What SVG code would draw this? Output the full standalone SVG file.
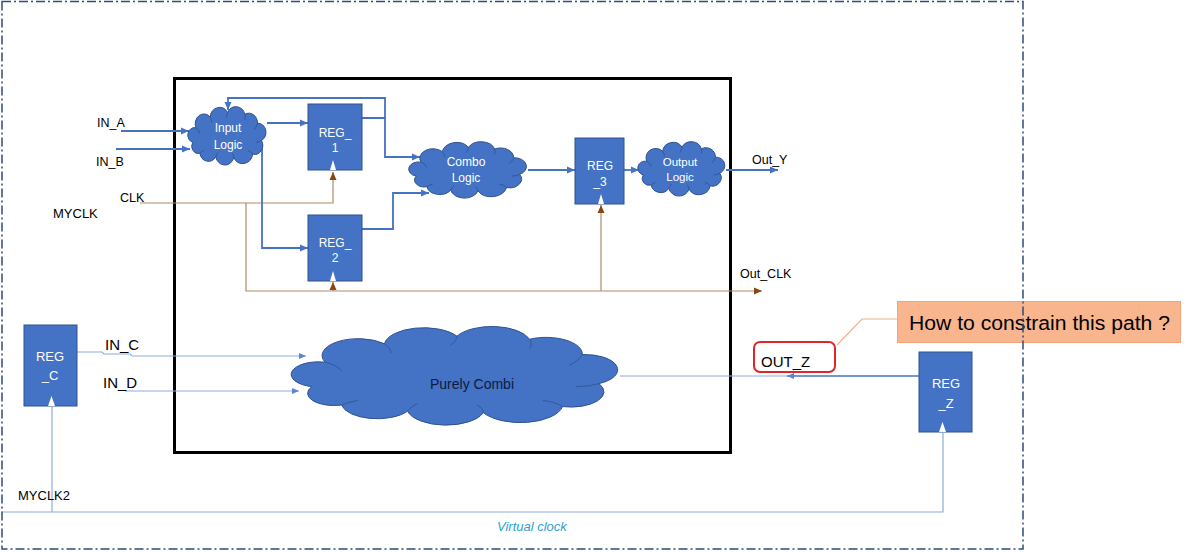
<svg xmlns="http://www.w3.org/2000/svg" xmlns:xlink="http://www.w3.org/1999/xlink" width="1204" height="552" viewBox="0 0 1204 552">
<style>
  text { font-family: "Liberation Sans", Arial, sans-serif; }
  .reg { fill: #4472C4; stroke: #2F528F; stroke-width: 1; }
  .wtxt { fill: #FFFFFF; font-size: 12px; text-anchor: middle; }
  .btxt { fill: #000000; font-size: 12.5px; }
  .blue { fill: none; stroke: #4472C4; stroke-width: 1.8; }
  .thin { fill: none; stroke: #8FAADC; stroke-width: 1.2; }
  .brown { fill: none; stroke: #B08968; stroke-width: 1.2; }
  .clk { fill: #FFFFFF; }
</style>
<defs>
  <g id="cloud">
    <path d="M6,38 A8,8 0 0 1 10,22 A11,11 0 0 1 28,10 A12,12 0 0 1 50,5 A12,12 0 0 1 72,7 A11,11 0 0 1 88,17 A10,10 0 0 1 93,36 A10,10 0 0 1 82,51 A13,13 0 0 1 58,55 A12,12 0 0 1 35,54 A11,11 0 0 1 15,50 A8,8 0 0 1 6,38 Z" fill="#4472C4" stroke="#2F528F" stroke-width="1" vector-effect="non-scaling-stroke"/>
    <path d="M10,22 Q14,24 15,28 M28,10 Q30,13 30,16 M50,5 Q50,8 48,11 M72,7 Q73,10 72,13 M88,17 Q87,21 84,24 M93,36 Q90,38 86,38 M82,51 Q80,48 76,47 M58,55 Q58,52 56,50 M35,54 Q36,51 38,49 M15,50 Q17,48 20,47" fill="none" stroke="#2F528F" stroke-width="0.8" vector-effect="non-scaling-stroke"/>
  </g>
  <marker id="ab" markerUnits="userSpaceOnUse" markerWidth="9" markerHeight="8" refX="8" refY="4" orient="auto">
    <path d="M0,0.5 L8,4 L0,7.5 Z" fill="#4472C4"/>
  </marker>
  <marker id="at" markerUnits="userSpaceOnUse" markerWidth="8" markerHeight="7" refX="7" refY="3.5" orient="auto">
    <path d="M0,0.5 L7,3.5 L0,6.5 Z" fill="#5B84D0"/>
  </marker>
  <marker id="abr" markerUnits="userSpaceOnUse" markerWidth="9" markerHeight="8" refX="8" refY="4" orient="auto">
    <path d="M0,0.5 L8,4 L0,7.5 Z" fill="#8B4513"/>
  </marker>
</defs>

<rect width="1204" height="552" fill="#FFFFFF"/>

<!-- main black block -->
<rect id="block" x="174.5" y="78.5" width="556" height="374" fill="none" stroke="#000000" stroke-width="3"/>

<!-- connectors -->
<g id="connectors">
  <!-- brown clock network -->
  <path class="brown" d="M140,203 H333 V172" marker-end="url(#abr)"/>
  <path class="brown" d="M246,203 V291 H762" marker-end="url(#abr)"/>
  <path class="brown" d="M333,291 V282" marker-end="url(#abr)"/>
  <path class="brown" d="M601,291 V205" marker-end="url(#abr)"/>
  <!-- blue data network -->
  <path class="blue" d="M121,131 H189" marker-end="url(#ab)"/>
  <path class="blue" d="M116,149 H190" marker-end="url(#ab)"/>
  <path class="blue" d="M267,123 H308" marker-end="url(#ab)"/>
  <path class="blue" d="M262,143 V248 H308" marker-end="url(#ab)"/>
  <path class="blue" d="M362,118 H385 V157 H420" marker-end="url(#ab)"/>
  <path class="blue" d="M385,118 V98 H228 V110" marker-end="url(#ab)"/>
  <path class="blue" d="M362,229 H393 V193 H429" marker-end="url(#ab)"/>
  <path class="blue" d="M528,170 H575" marker-end="url(#ab)"/>
  <path class="blue" d="M624,170 H639" marker-end="url(#ab)"/>
  <path class="blue" d="M726,170 H778" marker-end="url(#ab)"/>
  <!-- lower path -->
  <path class="thin" d="M77,352 H102 L104,354 H130 L132,356 H306" marker-end="url(#at)"/>
  <path class="thin" d="M125,391 H299" marker-end="url(#at)"/>
  <path class="thin" d="M620,376 H787"/>
  <path fill="none" stroke="#4472C4" stroke-width="1.3" d="M919,376 H787" marker-end="url(#at)"/>
  <!-- virtual clock -->
  <path class="thin" d="M2,512 H943 V433"/>
  <path class="thin" d="M52,407 V512"/>
  <!-- callout leader -->
  <path fill="none" stroke="#F4B183" stroke-width="1.2" d="M837,345 L862,319 H897"/>
</g>

<!-- clouds -->
<g id="input_logic">
  <use xlink:href="#cloud" href="#cloud" transform="translate(188,107.9) scale(0.79,0.906)"/>
  <text class="wtxt" x="228" y="132">Input</text>
  <text class="wtxt" x="228" y="149">Logic</text>
</g>
<g id="combo_logic">
  <use xlink:href="#cloud" href="#cloud" transform="translate(409,142.9) scale(1.19,0.875)"/>
  <text class="wtxt" x="466" y="166">Combo</text>
  <text class="wtxt" x="466" y="182">Logic</text>
</g>
<g id="output_logic">
  <use xlink:href="#cloud" href="#cloud" transform="translate(638,142.8) scale(0.88,0.844)"/>
  <text class="wtxt" x="680" y="166" style="font-size:11.5px">Output</text>
  <text class="wtxt" x="680" y="181" style="font-size:11.5px">Logic</text>
</g>
<g id="purely_combi">
  <use xlink:href="#cloud" href="#cloud" transform="translate(292,328.5) scale(3.3,1.531)"/>
  <text x="472" y="389" text-anchor="middle" style="font-size:14px" fill="#0D1B3E">Purely Combi</text>
</g>

<!-- registers -->
<g id="reg_1">
  <rect class="reg" x="308" y="104" width="54" height="66"/>
  <path class="clk" d="M330,170 L333,160 L336,170 Z"/>
  <text class="wtxt" x="335" y="137">REG_</text>
  <text class="wtxt" x="335" y="152">1</text>
</g>
<g id="reg_2">
  <rect class="reg" x="308" y="215" width="54" height="66"/>
  <path class="clk" d="M330,281 L333,271 L336,281 Z"/>
  <text class="wtxt" x="335" y="247">REG_</text>
  <text class="wtxt" x="335" y="262">2</text>
</g>
<g id="reg_3">
  <rect class="reg" x="575" y="138" width="49" height="66"/>
  <path class="clk" d="M598,204 L601,194 L604,204 Z"/>
  <text class="wtxt" x="600" y="170">REG</text>
  <text class="wtxt" x="600" y="186">_3</text>
</g>
<g id="reg_c">
  <rect class="reg" x="24" y="325" width="53" height="81"/>
  <path class="clk" d="M48,406 L51.5,396 L55,406 Z"/>
  <text class="wtxt" x="50" y="361" style="font-size:13px">REG</text>
  <text class="wtxt" x="50" y="380" style="font-size:13px">_C</text>
</g>
<g id="reg_z">
  <rect class="reg" x="919" y="352" width="53" height="80"/>
  <path class="clk" d="M939,432 L942.5,422 L946,432 Z"/>
  <text class="wtxt" x="946" y="388" style="font-size:13px">REG</text>
  <text class="wtxt" x="946" y="408" style="font-size:13px">_Z</text>
</g>

<!-- labels -->
<g id="labels">
  <text class="btxt" x="97" y="127">IN_A</text>
  <text class="btxt" x="96" y="166">IN_B</text>
  <text class="btxt" x="120" y="202">CLK</text>
  <text class="btxt" x="53" y="218" style="font-size:13px">MYCLK</text>
  <text class="btxt" x="752" y="164">Out_Y</text>
  <text class="btxt" x="740" y="278">Out_CLK</text>
  <text class="btxt" x="105" y="350" style="font-size:15px">IN_C</text>
  <text class="btxt" x="103" y="388" style="font-size:15px">IN_D</text>
  <text class="btxt" x="18" y="500" style="font-size:13px">MYCLK2</text>
  <text x="497" y="531" style="font-size:13px;font-style:italic" fill="#2E9FD2">Virtual clock</text>
</g>

<!-- OUT_Z highlight -->
<g id="out_z">
  <rect x="754" y="342" width="81" height="30" rx="6" ry="6" fill="none" stroke="#E0262A" stroke-width="2"/>
  <text class="btxt" x="761" y="367" style="font-size:15px">OUT_Z</text>
</g>

<!-- callout -->
<g id="callout">
  <rect x="897.5" y="301.5" width="283" height="41" fill="#F8B58E" stroke="#F4A37A" stroke-width="1"/>
  <text x="909" y="330" style="font-size:20px" fill="#000000" textLength="261" lengthAdjust="spacingAndGlyphs">How to constrain this path ?</text>
</g>

<!-- outer virtual boundary -->
<path id="boundary" d="M2,1.5 H1023 V549 H2 Z" fill="none" stroke="#2F4B7C" stroke-width="1.5" stroke-dasharray="9 3 2 3"/>
</svg>
